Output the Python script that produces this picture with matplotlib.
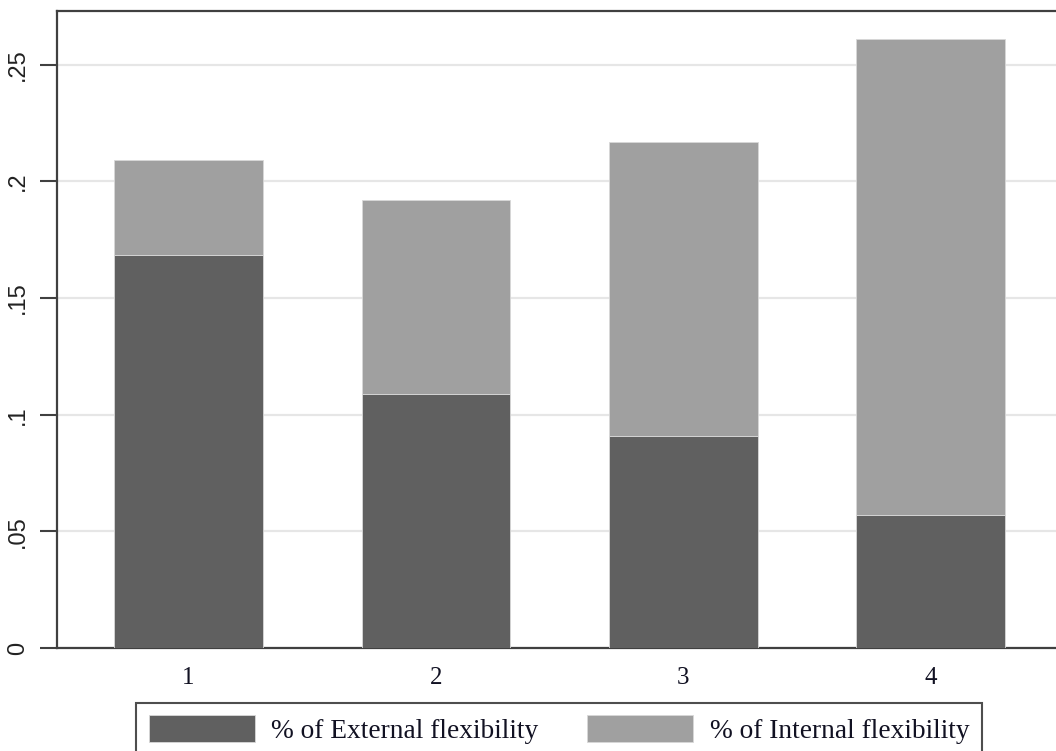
import matplotlib
matplotlib.use("Agg")
import matplotlib.pyplot as plt
from matplotlib.patches import Patch

groups = ["1", "2", "3", "4"]
external = [0.1683, 0.1088, 0.0911, 0.0569]
internal = [0.0411, 0.0831, 0.1258, 0.2043]
series_labels = ["% of External flexibility", "% of Internal flexibility"]
yticks = [0, 0.05, 0.10, 0.15, 0.20, 0.25]
ytick_labels = ["0", ".05", ".1", ".15", ".2", ".25"]

dark = "#606060"
light = "#a0a0a0"
spine_c = "#404040"

fig = plt.figure(figsize=(10.56, 7.51), dpi=100)
W, H = 1056, 751
ax = fig.add_axes([57 / W, 1 - 648 / H, 1 - 57 / W, (648 - 10.5) / H])

x = list(range(1, len(groups) + 1))
ax.bar(x, external, width=0.6, color=dark, edgecolor="#d8d8d8", linewidth=0.6, zorder=3)
ax.bar(x, internal, width=0.6, bottom=external, color=light, edgecolor="#d8d8d8", linewidth=0.6, zorder=3)

ax.set_xlim(0.4685, 4.5065)
ax.set_ylim(0, 0.2733)
ax.set_yticks(yticks)
ax.set_yticklabels(ytick_labels, rotation=90, va="center",
                   family=["Liberation Sans Narrow", "Liberation Sans", "DejaVu Sans"],
                   fontsize=17, color="#222222")
ax.set_xticks(x)
ax.set_xticklabels(groups, family=["Liberation Serif", "DejaVu Serif"], fontsize=18, color="#111122")
ax.tick_params(axis="x", length=0, pad=14)
ax.tick_params(axis="y", length=12, width=1.5, color=spine_c, pad=8)
ax.yaxis.grid(True, color="#e6e6e6", linewidth=1.6, zorder=0)
ax.set_axisbelow(True)
for s in ["left", "top", "bottom"]:
    ax.spines[s].set_color(spine_c)
    ax.spines[s].set_linewidth(1.6)
ax.spines["right"].set_visible(False)

handles = [Patch(facecolor=dark, edgecolor="#d8d8d8", linewidth=0.6),
           Patch(facecolor=light, edgecolor="#d8d8d8", linewidth=0.6)]
fs = 19.7
fpx = fs * 100 / 72
leg = fig.legend(handles, series_labels, ncol=2, loc="upper center",
                 bbox_to_anchor=(559 / W, 1 - 703 / H),
                 prop={"family": ["Liberation Serif", "DejaVu Serif"], "size": fs},
                 frameon=True, fancybox=False, edgecolor="#222222",
                 handlelength=106 / fpx, handleheight=30 / fpx,
                 handletextpad=0.6, columnspacing=1.8, borderpad=0.45, borderaxespad=0)
leg.get_frame().set_linewidth(1.5)
for t in leg.get_texts():
    t.set_color("#111122")

fig.savefig("out.png", dpi=100)
